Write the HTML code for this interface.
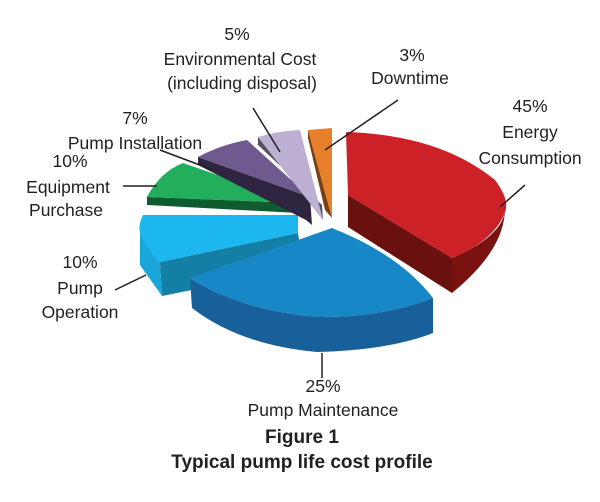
<!DOCTYPE html>
<html><head><style>
body{margin:0;background:#fff;}
svg{display:block;}
text{font-family:"Liberation Sans",sans-serif;font-size:17.5px;fill:#231f20;}
.b{font-weight:bold;font-size:19px;}
</style></head><body>
<svg width="600" height="502" viewBox="0 0 600 502">
<path d="M348,195 L452,258 L452,293 L348,227 Z" fill="#6a100e"/>
<path d="M505,208 Q505,250 452,293 L452,258 Q505,235 505,208Z" fill="#7a1210"/>
<path d="M348,195 L346,132 Q440,135 495,180 Q510,200 505,212 Q495,240 452,258 Z" fill="#cd2128"/>
<path d="M140,233 L160,262 L162,296 L140,265 Z" fill="#1aa6d8"/>
<path d="M160,262 L298,233 L300,247 L190,278 L192,290 L162,296 Z" fill="#137fa5"/>
<path d="M298,215 L143,215 Q138,225 140,233 Q148,252 160,262 L298,233 Z" fill="#1bb7ee"/>
<path d="M147,197 L298,203 L298,213 L147,205 Z" fill="#0f5a2e"/>
<path d="M147,197 Q160,172 183,163 L298,203 Z" fill="#22ae5c"/>
<path d="M198,157 L310,197 L312,225 L306,220 L198,165 Z" fill="#2f2540"/>
<path d="M198,157 Q220,145 247,140 L310,197 Z" fill="#6e5a8e"/>
<path d="M258,137 L323,220 L322,205 L258,145 Z" fill="#545061"/>
<path d="M258,137 Q278,131 300,130 L323,220 Z" fill="#bdb0d2"/>
<path d="M308,130 L332,218 L325,210 L308,138 Z" fill="#7a3e14"/>
<path d="M308,130 L332,128 L332,218 Z" fill="#e7802a"/>
<path d="M190,278 L192,308 Q240,345 317,352 Q390,350 433,333 L433,298 Q380,318 317,317 Q240,310 190,278 Z" fill="#17609a"/>
<path d="M332,228 L190,278 Q240,310 317,317 Q380,318 433,298 Q400,255 332,228 Z" fill="#1887c8"/>
<g stroke="#231f20" stroke-width="1.5" fill="none">
<line x1="123" y1="186" x2="157" y2="186"/>
<line x1="160" y1="150" x2="213" y2="170"/>
<line x1="253" y1="108" x2="280" y2="152"/>
<line x1="398" y1="100" x2="325" y2="150"/>
<line x1="525" y1="185" x2="500" y2="207"/>
<line x1="115" y1="290" x2="146" y2="275"/>
<line x1="322" y1="353" x2="322" y2="378"/>
</g>
<text x="237" y="40" text-anchor="middle">5%</text>
<text x="240" y="65" text-anchor="middle">Environmental Cost</text>
<text x="242" y="89" text-anchor="middle">(including disposal)</text>
<text x="412" y="61" text-anchor="middle">3%</text>
<text x="410" y="84" text-anchor="middle">Downtime</text>
<text x="530" y="112" text-anchor="middle">45%</text>
<text x="530" y="138" text-anchor="middle">Energy</text>
<text x="530" y="164" text-anchor="middle">Consumption</text>
<text x="135" y="124" text-anchor="middle">7%</text>
<text x="135" y="149" text-anchor="middle">Pump Installation</text>
<text x="70" y="167" text-anchor="middle">10%</text>
<text x="68" y="193" text-anchor="middle">Equipment</text>
<text x="66" y="216" text-anchor="middle">Purchase</text>
<text x="80" y="268" text-anchor="middle">10%</text>
<text x="80" y="294" text-anchor="middle">Pump</text>
<text x="80" y="318" text-anchor="middle">Operation</text>
<text x="323" y="392" text-anchor="middle">25%</text>
<text x="323" y="416" text-anchor="middle">Pump Maintenance</text>
<text class="b" x="302" y="443" text-anchor="middle">Figure 1</text>
<text class="b" x="302" y="468" text-anchor="middle">Typical pump life cost profile</text>
</svg>
</body></html>
